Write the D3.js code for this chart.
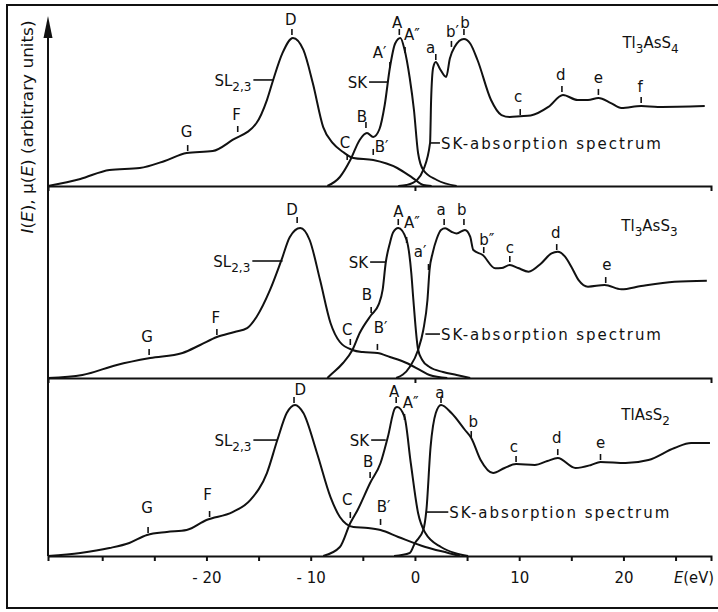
<!DOCTYPE html>
<html lang="en">
<head>
<meta charset="UTF-8">
<title>SL2,3 and SK spectra of Tl-As-S compounds</title>
<script src="https://d3js.org/d3.v7.min.js"></script>
<style>
  body { margin: 0; background: #fff; }
  .curve { fill: none; stroke: #111; stroke-width: 2px; stroke-linejoin: round; }
  .mark { stroke: #111; stroke-width: 1.6px; }
  .axis path, .axis line { stroke: #111; stroke-width: 2px; }
  text { font-family: "DejaVu Sans", sans-serif; font-size: 15px; fill: #111; }
</style>
</head>
<body>
<svg id="chart" width="718" height="612"></svg>
<script>
// energy axis (eV)
var eRange = [-35.2, 28.4];
var tickLabels = [-20, -10, 0, 10, 20];
var tickMarks = [-30, -25, -20, -15, -10, -5, 0, 5, 10, 15, 20, 25];

// compound names, [text, subscript?]
var compoundNames = [
  [["Tl", 0], ["3", 1], ["AsS", 0], ["4", 1]],
  [["Tl", 0], ["3", 1], ["AsS", 0], ["3", 1]],
  [["TlAsS", 0], ["2", 1]]
];
var compoundPos = [[19.9, 92], [19.8, 98], [19.8, 91]];   // [E, I]

// ---- Tl3AsS4 ----  [E (eV), intensity]
var sl_Tl3AsS4 = [[-35.2,0],[-32.1,4.7],[-29.3,10.7],[-26.4,12],[-24.0,16.7],[-21.9,22],[-19.4,23.3],
  [-17.5,30.7],[-15.2,42],[-14.2,57.3],[-13.6,70.7],[-12.7,88.7],[-11.7,98.7],[-10.7,90.7],[-9.8,68.7],
  [-8.8,39.3],[-7.9,28.7],[-6.9,22.7],[-5.9,18.7],[-4.0,17.3],[-1.7,12],[-0.2,5.3],[0.8,0.7],[1.6,0]];
var sk_Tl3AsS4 = [[-8.4,0],[-7.2,6],[-6.2,17.3],[-5.3,30.7],[-4.6,35.3],[-4.0,32.7],[-3.4,38],[-2.9,54],
  [-2.4,79],[-1.9,95],[-1.4,98.7],[-1.0,91],[-0.5,72],[-0.1,51],[0.3,22],[0.8,10.7],[2.1,4],[4.0,0]];
var abs_Tl3AsS4 = [[-1.6,0],[-0.8,0.7],[0.2,4],[0.8,10.7],[1.45,28.7],[1.55,57],[1.75,79],[2.0,82.7],
  [2.4,78],[3.0,72.7],[3.35,85],[3.8,92.7],[4.7,98],[5.3,95],[6.0,84],[7.3,57.3],[8.3,47.3],[9.1,46],
  [10.1,46.5],[11.1,47],[12.8,52.7],[14.2,60.7],[15.6,57.3],[16.6,57.3],[17.6,58.7],[18.8,55.3],
  [19.8,52],[21.7,53.3],[23.3,52.7],[27.8,53.3]];
// [label, tick E, tick I, text E, text I]
var peaks_Tl3AsS4 = [["D",-11.8,100.7,-11.9,107.3],["G",-21.8,23.3,-21.9,32.7],["F",-17.0,36,-17.1,44],
  ["C",-6.5,17.3,-6.7,25.3],["B",-4.7,38.7,-5.1,42.7],["B′",-4.0,20.7,-3.2,22.7],["A",-1.5,100.7,-1.7,105.3],
  ["A′",-2.4,78.7,-3.4,85.3],["A″",-0.95,88.7,-0.3,97.3],["a",2.0,84,1.5,88.7],["b′",3.5,92.7,3.6,99.3],
  ["b",4.7,100.7,4.8,105.3],["c",10.1,47.3,9.9,56],["d",14.1,62.7,14.0,70.7],["e",17.6,60.7,17.6,68.7],
  ["f",21.7,55.3,21.6,62.7]];

// ---- Tl3AsS3 ----
var sl_Tl3AsS3 = [[-35.2,0],[-31.9,2],[-28.6,8.7],[-25.4,13.3],[-22.3,16.7],[-20.6,22],[-19.0,27.3],
  [-17.3,30.7],[-16.1,33.3],[-15.2,40.7],[-13.9,58.7],[-12.8,78.7],[-12.0,94],[-11.0,100],[-10.1,92],
  [-9.1,65.3],[-8.1,36.7],[-7.2,24],[-6.0,18.7],[-5.0,17.3],[-3.6,16.7],[-2.4,14],[-0.8,10],[0.5,5.3],
  [1.4,2],[3.1,0]];
var sk_Tl3AsS3 = [[-8.4,0],[-8.1,2],[-6.9,10],[-6.0,18.7],[-5.3,30],[-4.2,42],[-3.5,48.7],[-3.1,58.7],
  [-2.8,77],[-2.4,90],[-2.1,97],[-1.6,100],[-0.8,92],[-0.35,70],[-0.15,52],[0.3,19],[0.7,12],[1.4,7.3],
  [2.7,4],[4.0,2],[5.3,0]];
var abs_Tl3AsS3 = [[-1.8,0],[-0.5,7.3],[0.3,18.7],[0.8,32],[1.2,52],[1.4,72],[1.7,83.3],[2.1,93],[2.5,98.7],
  [2.9,99.8],[3.5,97.5],[4.0,96.4],[4.8,98.7],[5.3,94.2],[5.6,85.3],[6.5,82],[7.7,73.1],[8.3,73.3],
  [9.1,75.3],[9.9,73.3],[10.9,70.9],[12.1,76.4],[13.1,83.1],[13.7,84.2],[14.4,80.9],[15.0,74.2],
  [15.7,65.3],[16.6,60.9],[18.2,62],[19.8,59.1],[21.7,61.3],[24.9,64.2],[28.0,64.9]];
var peaks_Tl3AsS3 = [["D",-11.3,103.3,-11.8,108.7],["G",-25.5,15.3,-25.7,24],["F",-19.0,28.7,-19.1,36.7],
  ["C",-6.2,22,-6.5,28.7],["B",-4.2,43.3,-4.6,52],["B′",-3.6,18.7,-3.3,30],["A",-1.6,102,-1.6,107.3],
  ["A″",-0.8,90,-0.3,100],["a′",1.3,72,0.5,80.7],["a",2.8,102,2.5,108.7],["b",4.7,102,4.5,108.7],
  ["b″",6.6,83.3,6.9,88.7],["c",9.1,77.3,9.1,83.3],["d",13.6,85.3,13.5,93.3],["e",18.3,63.3,18.4,72]];

// ---- TlAsS2 ----
var sl_TlAsS2 = [[-35.2,0],[-32.1,2],[-29.3,5.3],[-27.4,8.7],[-25.7,14],[-23.8,16],[-21.9,17.3],[-20.0,24],
  [-17.5,29.3],[-15.8,37.3],[-14.2,55.3],[-13.2,77.3],[-12.3,95.3],[-11.5,100.7],[-10.7,95.3],[-9.4,68.7],
  [-8.1,39.3],[-7.2,26],[-5.9,19.3],[-4.5,18.7],[-3.3,17.3],[-1.6,12.7],[1.0,6],[3.2,2],[4.3,0]];
var sk_TlAsS2 = [[-8.8,0],[-7.2,6],[-6.2,22],[-5.5,30.7],[-4.3,48.7],[-3.3,62],[-2.6,79.3],[-1.9,98.7],
  [-1.7,99.3],[-1.0,92.7],[-0.4,62],[0.3,28.7],[1.0,15.3],[2.5,6],[3.8,2],[5.1,0]];
var abs_TlAsS2 = [[-2.0,0],[-0.5,2],[0.0,8.7],[0.8,17.3],[1.1,30.7],[1.5,72.7],[2.0,95.3],[2.5,100.7],
  [3.5,95.3],[4.8,84],[5.4,78.7],[6.3,64],[7.5,55.3],[8.6,58.7],[9.7,61.3],[11.5,60.7],[12.7,63.3],
  [13.7,65.3],[15.4,58.7],[16.9,60.7],[17.8,62.7],[20.2,62],[22.4,64],[24.9,72],[26.5,75.3],[28.3,75.3]];
var peaks_TlAsS2 = [["D",-11.6,102,-11.0,107.3],["G",-25.6,15.3,-25.7,28.7],["F",-19.7,26,-19.9,37.3],
  ["C",-6.2,25.3,-6.5,34],["B",-4.3,52,-4.5,59.3],["B′",-3.3,20.7,-3.0,29.3],["A",-1.8,102,-2.0,106],
  ["A″",-1.0,90.7,-0.4,98.7],["a",2.5,102,2.4,105.3],["b",5.4,79.3,5.6,86],["c",9.7,62.7,9.5,69.3],
  ["d",13.7,67.3,13.6,75.3],["e",17.8,64,17.8,72]];

// leader-line labels: [label parts, curve E, text E, I]
var leaders_Tl3AsS4 = [[[["SL",0],["2,3",1]], -13.6, -15.5, 70.7], [[["SK",0]], -2.6, -4.4, 69.3],
  [[["SK-absorption spectrum",0]], 1.45, 2.4, 28.7]];
var leaders_Tl3AsS3 = [[[["SL",0],["2,3",1]], -12.7, -15.6, 78], [[["SK",0]], -2.8, -4.3, 77.3],
  [[["SK-absorption spectrum",0]], 1.0, 2.4, 29.3]];
var leaders_TlAsS2 = [[[["SL",0],["2,3",1]], -13.2, -15.5, 77.3], [[["SK",0]], -2.8, -4.2, 77.3],
  [[["SK-absorption spectrum",0]], 1.1, 3.2, 29.3]];

var panels = [
  {curves: [sl_Tl3AsS4, sk_Tl3AsS4, abs_Tl3AsS4], peaks: peaks_Tl3AsS4, leaders: leaders_Tl3AsS4},
  {curves: [sl_Tl3AsS3, sk_Tl3AsS3, abs_Tl3AsS3], peaks: peaks_Tl3AsS3, leaders: leaders_Tl3AsS3},
  {curves: [sl_TlAsS2, sk_TlAsS2, abs_TlAsS2], peaks: peaks_TlAsS2, leaders: leaders_TlAsS2}
];

var svg = d3.select("#chart");
var x = d3.scaleLinear().domain(eRange).range([48, 711]);
var baselines = [186, 378, 556];
var yScales = baselines.map(function(b) { return d3.scaleLinear().domain([0, 100]).range([b, b - 150]); });

// outer frame (right edge runs off the page, as in the scan)
svg.append("rect").attr("x", 7).attr("y", 5).attr("width", 714).attr("height", 603)
  .attr("fill", "none").attr("stroke", "#111").attr("stroke-width", 2);

// write text with subscript parts
function richText(g, parts, size) {
  var t = g.append("text");
  var shifted = false;
  parts.forEach(function(p) {
    var s = t.append("tspan").text(p[0]);
    if (p[1] && !shifted) { s.attr("dy", 5).style("font-size", (size - 3) + "px"); shifted = true; }
    else if (!p[1] && shifted) { s.attr("dy", -5); shifted = false; }
    else if (p[1]) s.style("font-size", (size - 3) + "px");
  });
  return t;
}

panels.forEach(function(p, i) {
  var y = yScales[i];
  var g = svg.append("g");

  var line = d3.line()
    .x(function(d) { return x(d[0]); })
    .y(function(d) { return y(d[1]); })
    .curve(d3.curveMonotoneX);

  g.selectAll("path.curve").data(p.curves).enter().append("path")
    .attr("class", "curve").attr("d", line);

  // baseline / energy axis
  var axis = d3.axisBottom(x).tickSizeOuter(0).tickSize(5);
  if (i === 2) {
    axis.tickValues(tickMarks).tickPadding(11)
      .tickFormat(function(d) { return tickLabels.indexOf(d) < 0 ? "" : (d < 0 ? "- " + (-d) : d); });
  } else {
    axis.tickValues([0]).tickFormat("");
  }
  var ax = g.append("g").attr("class", "axis").attr("transform", "translate(0," + y(0) + ")").call(axis);
  ax.selectAll("text").style("font-size", "15px").style("font-family", "'DejaVu Sans', sans-serif").attr("fill", "#111");

  // peak ticks and letters
  p.peaks.forEach(function(k) {
    g.append("line").attr("class", "mark")
      .attr("x1", x(k[1])).attr("x2", x(k[1]))
      .attr("y1", y(k[2])).attr("y2", y(k[2]) - 6);
    g.append("text").attr("x", x(k[3])).attr("y", y(k[4]))
      .attr("text-anchor", "middle").text(k[0]);
  });

  // leader labels
  p.leaders.forEach(function(l) {
    var yy = y(l[3]);
    g.append("line").attr("class", "mark")
      .attr("x1", x(l[1])).attr("x2", x(l[2])).attr("y1", yy).attr("y2", yy);
    var right = l[2] > l[1];
    var t = richText(g, l[0], 15)
      .attr("x", x(l[2]) + (right ? 1 : -2)).attr("y", yy + 6)
      .attr("text-anchor", right ? "start" : "end");
    if (right) t.attr("textLength", 220).attr("lengthAdjust", "spacing");
  });

  // compound name
  richText(g, compoundNames[i], 15)
    .attr("x", x(compoundPos[i][0])).attr("y", y(compoundPos[i][1]));
});

// intensity axis with arrow
var yTop = 16;
svg.append("line").attr("x1", x(eRange[0])).attr("x2", x(eRange[0]))
  .attr("y1", yScales[2](0)).attr("y2", yTop + 10)
  .attr("stroke", "#111").attr("stroke-width", 2);
svg.append("path")
  .attr("d", "M" + x(eRange[0]) + "," + yTop + "l-4.5,22h9z")
  .attr("fill", "#111");

// axis titles
var yt = svg.append("text").attr("transform", "translate(33,127) rotate(-90)")
  .attr("text-anchor", "middle").attr("textLength", 213).attr("lengthAdjust", "spacingAndGlyphs");
yt.append("tspan").style("font-style", "italic").text("I");
yt.append("tspan").text("(");
yt.append("tspan").style("font-style", "italic").text("E");
yt.append("tspan").text("), μ(");
yt.append("tspan").style("font-style", "italic").text("E");
yt.append("tspan").text(") (arbitrary units)");

var xt = svg.append("text").attr("x", 674).attr("y", 583)
  .attr("textLength", 40).attr("lengthAdjust", "spacingAndGlyphs");
xt.append("tspan").style("font-style", "italic").text("E");
xt.append("tspan").text("(eV)");
</script>
</body>
</html>
